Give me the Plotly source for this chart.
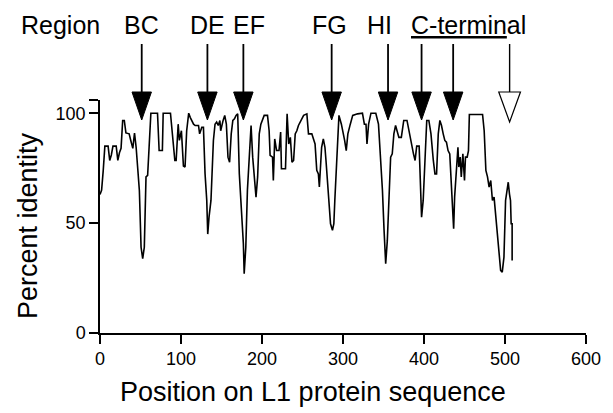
import plotly.graph_objects as go

# percent identity along the L1 sequence
position = [0, 2, 4, 6, 10, 12, 14, 16, 20, 22, 24, 26, 28, 30, 32, 36, 38, 40.5, 42.6, 44.6,
            46.6, 48.6, 50.7, 52.7, 54.7, 56.8, 58.8, 60.8, 62.8, 71, 73, 77, 78, 87, 89, 92.4,
            94, 96.5, 98, 100.5, 103, 105, 107, 109.5, 111.5, 115.5, 117.5, 121.6, 123, 125.7,
            127.7, 129.7, 131.8, 133, 134.6, 137, 140, 142, 144, 146, 148, 149, 152, 154, 156,
            158, 160, 162, 164, 166, 168, 170, 172, 175, 177, 178, 180, 182, 184.5, 186.5, 188.5,
            190.5, 192.6, 194.6, 196.6, 198.6, 202.7, 206.8, 208.8, 210, 213, 214, 215.7, 218,
            221, 223, 224, 229, 231, 233, 235, 237, 239, 241, 243, 245, 247, 251.4, 255.4, 257.4,
            261.5, 263.5, 265.5, 267.6, 269.6, 270.8, 272.4, 273.6, 275.7, 277.7, 279, 280.5,
            283, 284.6, 287, 288.7, 289.9, 292, 295, 298, 300, 302, 304, 306, 309, 312, 318, 324,
            326.4, 328.4, 329.6, 331.6, 334.5, 340.5, 343.8, 346.6, 348.7, 350.7, 352.7, 354.7,
            356.8, 358.8, 360.8, 362.8, 364.9, 367, 369, 372, 375, 379, 382, 385, 387, 389, 391,
            394, 395, 397, 399, 401, 403.4, 406, 408.6, 411.5, 413.5, 415.5, 417.6, 419.6, 421.6,
            423.7, 425.7, 427.7, 429.7, 431.8, 433, 434.6, 436.6, 437.8, 439.9, 441.9, 443,
            444.7, 446, 448, 450, 451.2, 453.3, 454.9, 456, 472.3, 474.3, 476.4, 478.4, 480.4,
            482.4, 484.5, 486.5, 488.5, 490.6, 492.6, 494.6, 496.6, 498.7, 500.7, 502.7, 504,
            505.5, 506.8, 507.6, 508.8, 508.8]
identity = [63, 65, 74, 85, 85, 78.5, 81, 85, 85, 78.5, 82, 84, 96.7, 96.7, 91, 90.6, 87.6, 84, 91, 84.5,
            74.7, 64.8, 39, 33.8, 39, 71, 71.7, 86, 100, 100, 83, 83, 100, 100, 92, 78.5,
            78.5, 95, 87.6, 92, 76, 75.5, 92, 100, 98, 95, 94.4, 94.4, 90.6, 93.6,
            93.6, 72.4, 60.3, 45, 52.7, 60.3, 87.6, 95, 96, 94.4, 96.7, 92, 96.7, 99, 95,
            80, 77.7, 90.6, 96.7, 97.4, 99, 99.7, 72.4, 52.7, 40.6, 27, 39, 65, 80, 94.4, 80,
            71, 61.8, 71, 90.6, 95, 99, 99, 92, 80.8, 80, 69.4, 88.3, 83,
            83, 91.4, 74.7, 74.7, 99.7, 86, 89, 77.7, 78.5, 90.6, 92, 94.4, 96, 99, 99.7, 90.6,
            90.6, 87.6, 86, 74, 72.4, 66.4, 74.7, 84.5, 88.3, 84.5, 78.5, 69.4,
            58.8, 49.7, 46.7, 49.7, 60.3, 77, 99, 95, 92, 87.6, 83, 90.6, 95, 99, 99.7, 100,
            95, 95, 86, 95, 100, 100, 95, 80, 64.8, 46.7, 31.5, 42,
            64.8, 80, 81.5, 90.6, 94.4, 92, 89, 89, 96.7, 96.7, 90.6, 86, 81.5, 78.5, 85,
            85, 71, 52.7, 60.3, 80, 96.7, 96.7, 90.6, 78.5, 72.4, 72.4, 90.6, 96.7, 94.4,
            90.6, 87.6, 86.8, 83, 81.5, 72.4, 60.3, 47.4, 61.8, 74, 84.5, 75.5,
            80, 71, 81.5, 69.4, 80, 80, 83, 99.4, 99.4, 92, 74, 71, 66.4,
            69.4, 60.3, 61.8, 52.7, 46.7, 36, 28.5, 27.7, 34.5, 60.3, 64.8, 68.6,
            63.3, 60.3, 49.7, 49.7, 33]

# region labels and arrows
region_names = ['BC', 'DE', 'EF', 'FG', 'HI']
region_label_x = [51, 133, 184, 283, 345]
cterm_label_x = 381
filled_arrow_x = [51.5, 132.6, 177, 286, 355.6, 397, 436]
open_arrow_x = [505.7]

W, H = 613, 413
L, R, T, B = 100, 20, 100, 80
plot_h = H - T - B
FONT = 'Liberation Sans'


def py(pix):
    # pixel row -> paper y
    return (H - B - pix) / plot_h


fig = go.Figure()
fig.add_trace(go.Scatter(x=position, y=identity, mode='lines',
                         line=dict(color='black', width=1.6),
                         showlegend=False, hoverinfo='skip'))

line_top, head_top, tip = py(44), py(92), py(120)
half_w = 12.0
for xv in filled_arrow_x:
    fig.add_shape(type='line', xref='x', yref='paper', x0=xv, x1=xv, y0=line_top, y1=head_top,
                  line=dict(color='black', width=1.8))
    fig.add_shape(type='path', xref='x', yref='paper',
                  path=f'M {xv - half_w},{head_top} L {xv + half_w},{head_top} L {xv},{tip} Z',
                  fillcolor='black', line=dict(color='black', width=1))
for xv in open_arrow_x:
    fig.add_shape(type='line', xref='x', yref='paper', x0=xv, x1=xv, y0=line_top, y1=head_top,
                  line=dict(color='black', width=1.4))
    fig.add_shape(type='path', xref='x', yref='paper',
                  path=f'M {xv - 13.4},{head_top} L {xv + 13.4},{head_top} L {xv},{py(122)} Z',
                  fillcolor='white', line=dict(color='black', width=1.2))

label_y = py(25)
fig.add_annotation(text='Region', xref='paper', yref='paper', x=(18 - L) / (W - L - R), y=label_y,
                   xanchor='left', yanchor='middle', showarrow=False,
                   font=dict(family=FONT, size=25, color='black'))
for name, xv in zip(region_names, region_label_x):
    fig.add_annotation(text=name, xref='x', yref='paper', x=xv, y=label_y,
                       xanchor='center', yanchor='middle', showarrow=False,
                       font=dict(family=FONT, size=25, color='black'))
fig.add_annotation(text='<u>C-termin</u>al', xref='x', yref='paper', x=cterm_label_x, y=label_y,
                   xanchor='left', yanchor='middle', showarrow=False,
                   font=dict(family=FONT, size=25, color='black'))

fig.add_annotation(text='Percent identity', xref='paper', yref='paper',
                   x=(27 - L) / (W - L - R), y=py(226), textangle=-90,
                   xanchor='center', yanchor='middle', showarrow=False,
                   font=dict(family=FONT, size=27, color='black'))
fig.add_annotation(text='Position on L1 protein sequence', xref='paper', yref='paper',
                   x=(316 - L) / (W - L - R), y=py(392),
                   xanchor='center', yanchor='middle', showarrow=False,
                   font=dict(family=FONT, size=27, color='black'))

fig.update_layout(width=W, height=H, margin=dict(l=L, r=R, t=T, b=B),
                  paper_bgcolor='white', plot_bgcolor='white',
                  font=dict(family=FONT, size=18, color='black'))
fig.update_xaxes(range=[0, 600], tickvals=[0, 100, 200, 300, 400, 500, 600],
                 ticks='outside', ticklen=9, tickwidth=1.5, tickcolor='black',
                 showline=True, linecolor='black', linewidth=1.5,
                 showgrid=False, zeroline=False,
                 tickfont=dict(family=FONT, size=18, color='black'))
fig.update_yaxes(range=[0, 106], tickvals=[0, 50, 100, 106], ticktext=['0', '50', '100', ''],
                 ticks='outside', ticklen=9, tickwidth=1.5, tickcolor='black',
                 showline=True, linecolor='black', linewidth=1.5,
                 showgrid=False, zeroline=False,
                 tickfont=dict(family=FONT, size=18, color='black'))

fig.write_html("out.html", config={'displayModeBar': False},
               post_script="document.body.style.margin='0';document.body.style.overflow='hidden';")
